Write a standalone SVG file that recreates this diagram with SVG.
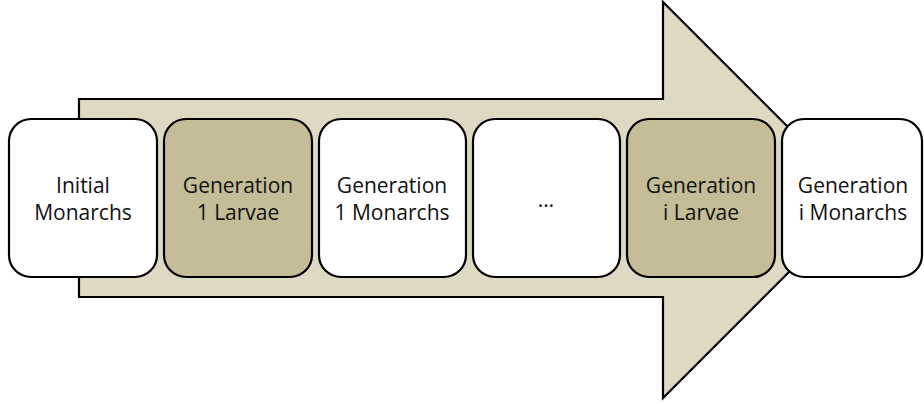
<svg xmlns="http://www.w3.org/2000/svg" width="924" height="404" viewBox="0 0 924 404">
<style>
.box{stroke:#000;stroke-width:2.2}
.w{fill:#fff}
.l{fill:#c4bd97}
text{font-family:"Open Sans","Liberation Sans",sans-serif;font-size:21px;fill:#111;text-anchor:middle}
</style>
<rect width="924" height="404" fill="#fff"/>
<g id="arrow">
<path d="M79,99 H663 V2 L861,200 L663,398 V297 H79 Z" fill="#ddd9c3" stroke="#000" stroke-width="2.2" stroke-linejoin="miter"/>
</g>
<g id="n1"><rect class="box w" x="9" y="119" width="148" height="158" rx="22"/><text x="83" y="193">Initial</text><text x="83" y="220">Monarchs</text></g>
<g id="n2"><rect class="box l" x="164" y="119" width="148" height="158" rx="22"/><text x="238" y="193">Generation</text><text x="238" y="220">1 Larvae</text></g>
<g id="n3"><rect class="box w" x="319" y="119" width="147" height="158" rx="22"/><text x="392" y="193">Generation</text><text x="392" y="220">1 Monarchs</text></g>
<g id="n4"><rect class="box w" x="473" y="119" width="147" height="158" rx="22"/><text x="546" y="207">…</text></g>
<g id="n5"><rect class="box l" x="627" y="119" width="148" height="158" rx="22"/><text x="701" y="193">Generation</text><text x="701" y="220">i Larvae</text></g>
<g id="n6"><rect class="box w" x="782" y="119" width="140" height="158" rx="22"/><text x="853" y="193">Generation</text><text x="853" y="220">i Monarchs</text></g>
<g id="connectors"></g>
</svg>
